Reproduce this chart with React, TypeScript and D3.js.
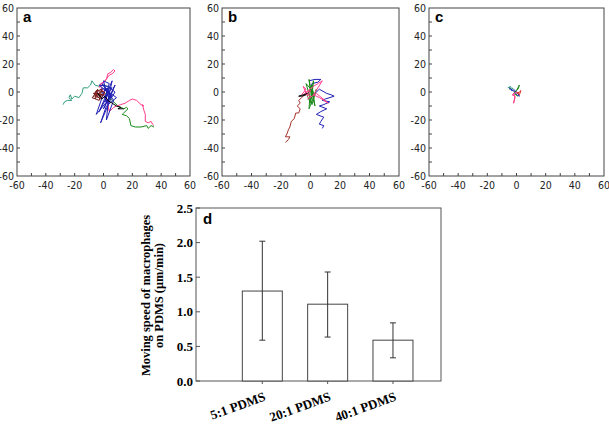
import React from "react";
import * as d3 from "d3";

// ---------- Panel a trajectories (µm) ----------
const aBlue: [number, number][] = [[2,0],[0,8],[4,6],[1,-4],[6,3],[-2,2],[3,-8],[8,5],[0,-12],[5,-2],[-1,6],[7,-6],[2,-20],[4,0],[-3,-14],[6,8],[3,-6],[-5,-16],[1,2],[9,-4],[2,-10],[-2,-22],[5,-5],[8,0],[3,4],[-3,5],[6,-3],[1,-7],[4,2]];
const aPink: [number, number][] = [[-3,3],[-2,6],[0,7],[2,9],[3,13],[5,14],[7,16],[8,15],[6,13],[4,12],[1,8],[-2,4],[1,-2],[3,-9],[4,-14],[7,-11],[9,-10],[12,-9],[15,-8],[18,-6],[20,-5],[23,-6],[26,-9],[28,-10],[27,-9],[28,-13],[29,-16],[29,-21],[31,-22],[33,-21],[34,-23],[35,-24]];
const aGreen: [number, number][] = [[0,-2],[2,-1],[4,-4],[6,-6],[8,-8],[10,-10],[12,-11],[14,-12],[16,-11],[17,-12],[14,-15],[13,-16],[16,-17],[18,-19],[19,-24],[22,-25],[26,-25],[30,-24],[31,-26],[33,-24],[35,-25]];
const aTeal: [number, number][] = [[3,4],[0,5],[-3,4],[-6,5],[-8,8],[-9,5],[-11,3],[-14,3],[-15,-1],[-17,-4],[-20,-3],[-22,-5],[-23,-2],[-24,-4],[-22,-6],[-25,-6],[-27,-7],[-28,-9]];
const aMaroon: [number, number][] = [[-7,-3],[-4,2],[-6,-5],[-2,0],[-5,-2],[-8,-4],[-3,-6],[-1,2],[-6,0],[-4,-4],[0,-2],[-7,-1],[-2,-5],[1,0],[-5,1],[-3,-3]];
const aBlack: [number, number][] = [[-2,-3],[-4,-1],[-1,-5],[1,-3],[3,-6],[6,-8],[9,-10],[12,-11],[10,-12],[14,-12]];

// ---------- Panel b trajectories ----------
const bBrown: [number, number][] = [[-1,-1],[-4,-2],[-6,-4],[-8,-6],[-7,-8],[-9,-10],[-7,-12],[-8,-15],[-10,-15],[-11,-19],[-13,-21],[-14,-25],[-15,-27],[-16,-30],[-17,-32],[-14,-32],[-15,-34],[-17,-36]];
const bBlue: [number, number][] = [[-1,8],[3,9],[7,9],[5,7],[1,6],[0,2],[2,-2],[6,2],[11,-1],[14,-2],[16,-3],[10,-5],[8,-6],[13,-7],[9,-9],[6,-10],[11,-12],[7,-14],[4,-16],[9,-18],[7,-21],[6,-23],[9,-24],[8,-26]];
const bGreen: [number, number][] = [[0,0],[-1,9],[1,-2],[2,8],[0,-8],[-2,-3],[1,5],[3,-10],[0,3],[-1,-12],[2,-4],[4,2],[1,-9],[-3,6],[2,0],[0,-6]];
const bPink: [number, number][] = [[-6,-2],[-3,2],[-5,4],[-2,-3],[0,1],[-4,-1],[2,4],[5,6],[8,8],[2,-2],[6,-4],[12,-8],[4,-1],[-2,-5],[0,-3],[-3,0]];
const bBlack: [number, number][] = [[-3,-2],[-6,-3],[-8,-3],[-5,-2],[-2,-1]];

// ---------- Panel c trajectories ----------
const cTeal: [number, number][] = [[-6,3],[-4,4],[-5,2],[-3,3],[-2,1]];
const cBlue: [number, number][] = [[-5,3],[-3,1],[-4,2],[-1,0],[0,-2],[2,-3],[1,-1],[-2,2]];
const cGreen: [number, number][] = [[-1,0],[1,2],[2,5],[0,1],[-2,-1],[1,-3]];
const cRed: [number, number][] = [[0,-1],[2,0],[3,1],[2,-2],[0,0]];
const cPink: [number, number][] = [[-2,-1],[-1,-4],[-2,-8],[-1,-3],[-3,-2],[0,0]];

// ---------- Panel d ----------
const categories = ["5:1 PDMS", "20:1 PDMS", "40:1 PDMS"];
const speedMean = [1.30, 1.11, 0.59];
const speedUpper = [2.02, 1.575, 0.84];
const speedLower = [0.59, 0.635, 0.335];
const yTicksD = [0, 0.5, 1.0, 1.5, 2.0, 2.5];
const scatterTicks = [-60, -40, -20, 0, 20, 40, 60];

const COL = {
  blue: "#1f1fb4",
  pink: "#ff3d8b",
  green: "#178a17",
  teal: "#2f9b7a",
  maroon: "#7a1a1a",
  black: "#000000",
  brown: "#a5322b",
  red: "#e0201a",
};

type Track = { pts: [number, number][]; color: string };

const panels: { letter: string; L: number; R: number; tracks: Track[] }[] = [
  {
    letter: "a", L: 17, R: 190,
    tracks: [
      { pts: aTeal, color: COL.teal },
      { pts: aGreen, color: COL.green },
      { pts: aPink, color: COL.pink },
      { pts: aBlue, color: COL.blue },
      { pts: aMaroon, color: COL.maroon },
      { pts: aBlack, color: COL.black },
    ],
  },
  {
    letter: "b", L: 222, R: 399,
    tracks: [
      { pts: bBrown, color: COL.brown },
      { pts: bBlue, color: COL.blue },
      { pts: bGreen, color: COL.green },
      { pts: bPink, color: COL.pink },
      { pts: bBlack, color: COL.black },
    ],
  },
  {
    letter: "c", L: 429, R: 604,
    tracks: [
      { pts: cTeal, color: COL.teal },
      { pts: cBlue, color: COL.blue },
      { pts: cGreen, color: COL.green },
      { pts: cRed, color: COL.red },
      { pts: cPink, color: COL.pink },
    ],
  },
];

const TOP = 8;
const BOTTOM = 176;
const sansNarrow = "'Liberation Sans Narrow', 'DejaVu Sans Condensed', 'Liberation Sans', Arial, sans-serif";
const serif = "'Liberation Serif', 'Times New Roman', serif";

function ScatterPanel({ letter, L, R, tracks }: { letter: string; L: number; R: number; tracks: Track[] }) {
  const x = d3.scaleLinear().domain([-60, 60]).range([L, R]);
  const y = d3.scaleLinear().domain([-60, 60]).range([BOTTOM, TOP]);
  const line = d3.line<[number, number]>().x((d) => x(d[0])).y((d) => y(d[1]));
  const minor = d3.range(-50, 60, 10);
  return (
    <g>
      <rect x={L} y={TOP} width={R - L} height={BOTTOM - TOP} fill="none" stroke="#444" strokeWidth={1} />
      {minor.map((t) => (
        <g key={"t" + t}>
          <line x1={x(t)} x2={x(t)} y1={BOTTOM} y2={BOTTOM - 3} stroke="#444" />
          <line x1={L} x2={L + 3} y1={y(t)} y2={y(t)} stroke="#444" />
        </g>
      ))}
      {scatterTicks.map((t) => (
        <g key={"l" + t}>
          <text x={x(t)} y={BOTTOM + 13} textAnchor="middle" fontSize={10.5} fontFamily={sansNarrow} fill="#222">{t}</text>
          <text x={L - 3} y={y(t) + 4} textAnchor="end" fontSize={10.5} fontFamily={sansNarrow} fill="#222">{t}</text>
        </g>
      ))}
      {tracks.map((tr, i) => (
        <path key={i} d={line(tr.pts) || ""} fill="none" stroke={tr.color} strokeWidth={1} strokeLinejoin="round" />
      ))}
      <text x={L + 6} y={TOP + 14} fontSize={15} fontWeight="bold" fontFamily="'Liberation Sans', Arial, sans-serif">{letter}</text>
    </g>
  );
}

function BarPanel() {
  const L = 196, R = 441, T = 208, B = 381;
  const x = d3.scaleLinear().domain([-0.015, 3.735]).range([L, R]);
  const y = d3.scaleLinear().domain([0, 2.5]).range([B, T]);
  const bw = 40;
  return (
    <g>
      <rect x={L} y={T} width={R - L} height={B - T} fill="none" stroke="#555" strokeWidth={1} />
      {yTicksD.map((t) => (
        <g key={t}>
          <line x1={L} x2={L + 4} y1={y(t)} y2={y(t)} stroke="#555" />
          <text x={L - 3} y={y(t) + 4.5} textAnchor="end" fontSize={13} fontWeight="bold" fontFamily={serif}>{t.toFixed(1)}</text>
        </g>
      ))}
      {categories.map((c, i) => {
        const cx = x(i + 1);
        return (
          <g key={c}>
            <rect x={cx - bw / 2} y={y(speedMean[i])} width={bw} height={B - y(speedMean[i])} fill="#fff" stroke="#444" strokeWidth={1} />
            <line x1={cx} x2={cx} y1={y(speedUpper[i])} y2={y(speedLower[i])} stroke="#333" />
            <line x1={cx - 3} x2={cx + 3} y1={y(speedUpper[i])} y2={y(speedUpper[i])} stroke="#333" />
            <line x1={cx - 3} x2={cx + 3} y1={y(speedLower[i])} y2={y(speedLower[i])} stroke="#333" />
            <line x1={cx} x2={cx} y1={B} y2={B + 3} stroke="#555" />
            <text transform={`translate(${cx + 4},${B + 19}) rotate(-20)`} textAnchor="end" fontSize={13} fontWeight="bold" fontFamily={serif}>{c}</text>
          </g>
        );
      })}
      <text x={L + 7} y={T + 16} fontSize={15} fontWeight="bold" fontFamily="'Liberation Sans', Arial, sans-serif">d</text>
      <text transform={`translate(150,${(T + B) / 2 + 1}) rotate(-90)`} textAnchor="middle" fontSize={12.5} fontWeight="bold" fontFamily={serif}>Moving speed of macrophages</text>
      <text transform={`translate(163,${(T + B) / 2 + 1}) rotate(-90)`} textAnchor="middle" fontSize={12.5} fontWeight="bold" fontFamily={serif}>on PDMS (μm/min)</text>
    </g>
  );
}

export default function App() {
  return (
    <svg width={609} height={427} style={{ position: "absolute", left: 0, top: 0, background: "#fff" }}>
      <rect width={609} height={427} fill="#fff" />
      {panels.map((p) => (
        <ScatterPanel key={p.letter} {...p} />
      ))}
      <BarPanel />
    </svg>
  );
}
